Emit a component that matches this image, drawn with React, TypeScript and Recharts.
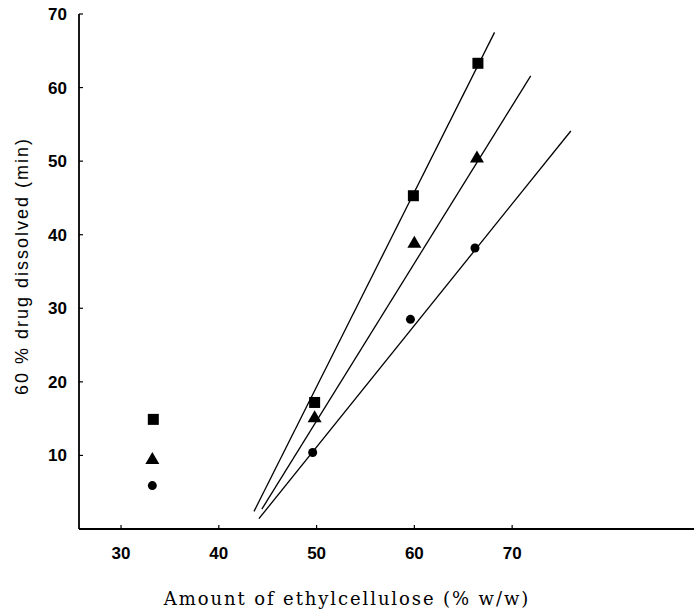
import { ScatterChart, Scatter, XAxis, YAxis } from "recharts";

// measured points (x = % ethylcellulose, y = minutes for 60% dissolved)
const squarePts = [
  { x: 33.3, y: 14.9 },
  { x: 49.8, y: 17.2 },
  { x: 59.9, y: 45.3 },
  { x: 66.5, y: 63.3 },
];
const trianglePts = [
  { x: 33.2, y: 9.5 },
  { x: 49.8, y: 15.2 },
  { x: 60.0, y: 38.9 },
  { x: 66.4, y: 50.5 },
];
const circlePts = [
  { x: 33.2, y: 5.9 },
  { x: 49.6, y: 10.4 },
  { x: 59.6, y: 28.5 },
  { x: 66.2, y: 38.2 },
];

// regression lines, end points
const squareFit = [
  { x: 43.6, y: 2.4 },
  { x: 68.2, y: 67.5 },
];
const triangleFit = [
  { x: 44.4, y: 2.7 },
  { x: 71.9, y: 61.6 },
];
const circleFit = [
  { x: 44.1, y: 1.4 },
  { x: 76.0, y: 54.1 },
];

const xTicks = [30, 40, 50, 60, 70];
const yTicks = [10, 20, 30, 40, 50, 60, 70];

const tickFont = "'Liberation Sans', Arial, sans-serif";

const YTick = ({ x, y, payload }: any) => (
  <g>
    <line x1={x + 12} x2={x + 16} y1={y} y2={y} stroke="#000" strokeWidth={1.2} />
    <text x={x} y={y} dy={6} textAnchor="end" fontFamily={tickFont} fontSize={17} fontWeight="bold" fill="#000">
      {payload.value}
    </text>
  </g>
);

const XTick = ({ x, y, payload }: any) => (
  <g>
    <line x1={x} x2={x} y1={y} y2={y - 4} stroke="#000" strokeWidth={1.2} />
    <text x={x} y={y + 30} textAnchor="middle" fontFamily={tickFont} fontSize={17} fontWeight="bold" fill="#000">
      {payload.value}
    </text>
  </g>
);

const Square = ({ cx, cy }: any) => <rect x={cx - 5.5} y={cy - 5.5} width={11} height={11} fill="#000" />;
const Triangle = ({ cx, cy }: any) => (
  <path d={`M${cx},${cy - 7} L${cx + 7},${cy + 5} L${cx - 7},${cy + 5} Z`} fill="#000" />
);
const Dot = ({ cx, cy }: any) => <circle cx={cx} cy={cy} r={4.5} fill="#000" />;
const NoMark = () => <g />;

export default function App() {
  return (
    <div style={{ position: "absolute", left: 0, top: 0, width: 694, height: 615, background: "#fff" }}>
      <ScatterChart width={694} height={615} margin={{ top: 14, right: 0, bottom: 26, left: 0 }}>
        <XAxis
          type="number"
          dataKey="x"
          domain={[25.7, 88.6]}
          allowDataOverflow
          ticks={xTicks}
          tick={<XTick />}
          tickSize={0}
          tickMargin={0}
          height={60}
          axisLine={{ stroke: "#000", strokeWidth: 1.8 }}
        />
        <YAxis
          type="number"
          dataKey="y"
          domain={[0, 70]}
          allowDataOverflow
          ticks={yTicks}
          tick={<YTick />}
          tickSize={0}
          tickMargin={12}
          width={79}
          axisLine={{ stroke: "#000", strokeWidth: 1.8 }}
        />
        <Scatter data={squareFit} line={{ stroke: "#000", strokeWidth: 1.3 }} shape={<NoMark />} isAnimationActive={false} />
        <Scatter data={triangleFit} line={{ stroke: "#000", strokeWidth: 1.3 }} shape={<NoMark />} isAnimationActive={false} />
        <Scatter data={circleFit} line={{ stroke: "#000", strokeWidth: 1.3 }} shape={<NoMark />} isAnimationActive={false} />
        <Scatter data={squarePts} shape={<Square />} isAnimationActive={false} />
        <Scatter data={trianglePts} shape={<Triangle />} isAnimationActive={false} />
        <Scatter data={circlePts} shape={<Dot />} isAnimationActive={false} />
        <text
          x={22}
          y={266}
          transform="rotate(-90 22 266)"
          textAnchor="middle"
          dominantBaseline="central"
          fontFamily={tickFont}
          fontSize={18}
          letterSpacing={2}
          fill="#000"
        >
          60 % drug dissolved (min)
        </text>
        <text
          x={347}
          y={605}
          textAnchor="middle"
          fontFamily="'DejaVu Serif', serif"
          fontSize={18}
          letterSpacing={1.9}
          fill="#000"
        >
          Amount of ethylcellulose (% w/w)
        </text>
      </ScatterChart>
    </div>
  );
}
